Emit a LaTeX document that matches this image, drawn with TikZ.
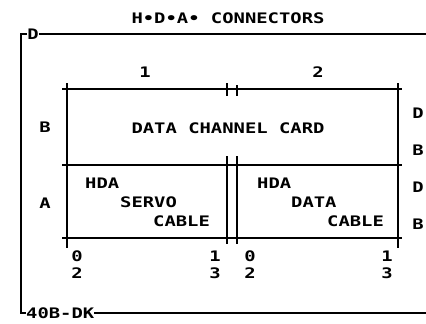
\documentclass[tikz,border=0pt]{standalone}
\usepackage{fontspec}
\newfontfamily\plotfont[FakeStretch=1.3]{DejaVu Sans Mono}
\usetikzlibrary{positioning}

\begin{document}
\begin{tikzpicture}[x=1pt,y=-1pt,every node/.style={font=\plotfont\bfseries\fontsize{14.5}{15}\selectfont,inner sep=0pt},
   ln/.style={line width=1.3pt},
   tk/.style={line width=1.3pt}]
  \useasboundingbox (0,0) rectangle (426,324);
  % title
  \node (title) at (228,18) {H•D•A• CONNECTORS};
  % outer frame
  \coordinate (otl) at (21,34);
  \coordinate (obl) at (21,313);
  \coordinate (otr) at (426,34);
  \coordinate (obr) at (426,313);
  \node (dtop) at (33,34) {D};
  \node[anchor=west] (partno) at (26,313) {40B-DK};
  \draw[ln] (dtop.west) -- (otl) -- (obl) -- (partno.west);
  \draw[ln] (dtop.east) -- (otr);
  \draw[ln] (partno.east) -- (obr);
  % card outline
  \coordinate (tl) at (67,89);
  \coordinate (tr) at (398,89);
  \coordinate (ml) at (67,165);
  \coordinate (mr) at (398,165);
  \coordinate (bl) at (67,238);
  \coordinate (br) at (398,238);
  \draw[ln] ([xshift=-5pt]tl) -- ([xshift=4pt]tr);
  \draw[ln] ([xshift=-5pt]ml) -- ([xshift=4pt]mr);
  \draw[ln] ([xshift=-5pt]bl) -- ([xshift=4pt]br);
  \draw[ln] ([yshift=6pt]tl) -- ([yshift=-10pt]bl);
  \draw[ln] ([yshift=6pt]tr) -- ([yshift=-10pt]br);
  % split between connectors
  \coordinate (sa) at (227,89);
  \coordinate (sb) at (237,89);
  \coordinate (sc) at (227,165);
  \coordinate (sd) at (237,165);
  \draw[tk] ([yshift=6pt]sa) -- ([yshift=-7pt]sa);
  \draw[tk] ([yshift=4pt]sb) -- ([yshift=-7pt]sb);
  \draw[ln] ([yshift=9pt]sc) -- ([yshift=-79pt]sc);
  \draw[ln] ([yshift=9pt]sd) -- ([yshift=-79pt]sd);
  % connector numbers
  \node (c1) at (145,72) {1};
  \node (c2) at (318,72) {2};
  \node (rowb) at (45,127) {B};
  \node (rowa) at (45,203) {A};
  \node (r1) at (418,113) {D};
  \node (r2) at (418,150) {B};
  \node (r3) at (418,187) {D};
  \node (r4) at (418,224) {B};
  % card texts
  \node (card) at (228,128) {DATA CHANNEL CARD};
  \node[anchor=west] (hda1) at (85,183) {HDA};
  \node[anchor=west] (servo) at (120,202) {SERVO};
  \node[anchor=west] (cab1) at (153,221) {CABLE};
  \node[anchor=west] (hda2) at (257,183) {HDA};
  \node[anchor=west] (data) at (291,202) {DATA};
  \node[anchor=west] (cab2) at (327,221) {CABLE};
  % pin numbers
  \foreach \x/\t/\b [count=\i] in {77/0/2,215/1/3,250/0/2,387/1/3}{
    \node (pt\i) at (\x,256) {\t};
    \node (pb\i) at (\x,273) {\b};
  }
\end{tikzpicture}
\end{document}
